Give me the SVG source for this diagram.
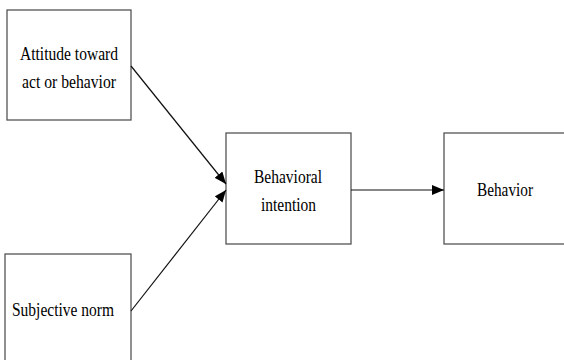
<svg xmlns="http://www.w3.org/2000/svg" width="564" height="360" viewBox="0 0 564 360">
<style>
.box{fill:#fff;stroke:#555;stroke-width:1.3}
.t{font-family:"Liberation Serif","DejaVu Serif",serif;font-size:19px;fill:#000;text-anchor:start}
.c{stroke:#111;stroke-width:1.2;fill:none}
</style>
<defs>
<marker id="ah" viewBox="0 0 12 10" refX="12" refY="5" markerWidth="12" markerHeight="10" markerUnits="userSpaceOnUse" orient="auto">
<path d="M0,0 L12,5 L0,10 z" fill="#000"/>
</marker>
</defs>
<rect width="564" height="360" fill="#fff"/>
<g id="attitude">
<rect class="box" x="7" y="10" width="124" height="110"/>
<text class="t" x="20" y="60" textLength="98" lengthAdjust="spacingAndGlyphs">Attitude toward</text>
<text class="t" x="22" y="88" textLength="94" lengthAdjust="spacingAndGlyphs">act or behavior</text>
</g>
<g id="subjective">
<rect class="box" x="5" y="254" width="126" height="120"/>
<text class="t" x="12" y="316" textLength="102" lengthAdjust="spacingAndGlyphs">Subjective norm</text>
</g>
<g id="intention">
<rect class="box" x="226" y="133" width="125" height="111"/>
<text class="t" x="254" y="182.5" textLength="68" lengthAdjust="spacingAndGlyphs">Behavioral</text>
<text class="t" x="261" y="210.5" textLength="55" lengthAdjust="spacingAndGlyphs">intention</text>
</g>
<g id="behavior">
<rect class="box" x="444" y="133" width="130" height="111"/>
<text class="t" x="477" y="196" textLength="56" lengthAdjust="spacingAndGlyphs">Behavior</text>
</g>
<g id="connectors">
<line class="c" x1="131" y1="66" x2="226" y2="184" marker-end="url(#ah)"/>
<line class="c" x1="131" y1="311" x2="226" y2="190" marker-end="url(#ah)"/>
<line class="c" x1="351" y1="190" x2="444" y2="190" marker-end="url(#ah)"/>
</g>
</svg>
